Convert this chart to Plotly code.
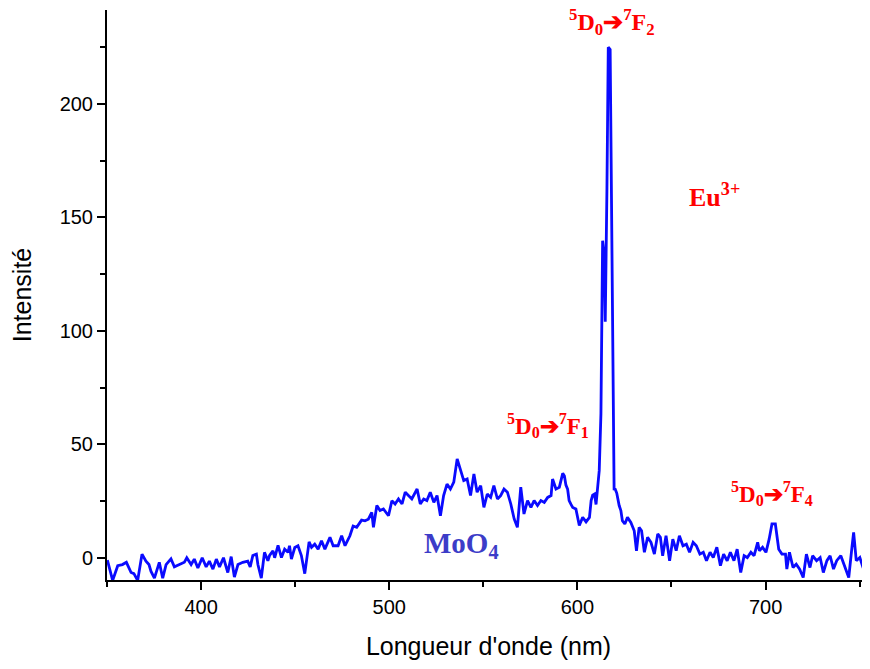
import plotly.graph_objects as go

wavelength = [350.2,353.0,355.7,358.2,360.3,362.8,364.3,366.3,368.6,370.7,372.3,373.4,375.2,377.8,379.6,381.4,384.0,385.8,388.5,391.1,392.4,394.7,396.4,398.3,400.6,402.7,404.4,406.3,408.1,409.8,411.9,414.2,416.0,417.7,419.6,422.2,424.8,426.1,427.5,429.4,430.2,432.0,433.7,435.5,436.4,438.2,439.1,440.9,442.7,444.4,446.2,447.0,448.0,449.8,451.5,453.3,455.1,455.9,457.4,458.7,460.4,462.2,464.0,465.8,468.5,470.2,472.8,474.7,476.5,479.1,480.8,482.7,485.3,487.1,488.9,490.7,491.6,493.4,495.1,496.9,499.6,501.4,503.1,504.9,506.8,508.5,510.3,512.0,514.8,516.5,518.3,520.0,521.8,523.7,525.4,527.2,528.9,530.7,532.5,534.3,536.1,537.8,539.6,541.4,543.2,545.0,546.7,548.6,550.3,552.1,553.9,555.6,557.5,559.2,561.0,562.8,564.6,566.4,568.1,569.9,571.6,573.5,575.3,577.0,578.8,580.6,582.4,584.2,586.0,586.8,588.6,590.4,592.2,593.1,593.9,594.8,595.6,596.6,597.5,599.2,601.0,602.8,604.6,606.4,607.3,608.1,609.1,609.9,611.6,612.5,613.4,614.3,614.8,615.7,616.4,617.4,618.1,619.0,619.5,620.1,620.9,622.2,623.1,623.9,625.2,626.6,628.4,630.2,631.4,632.8,634.1,635.6,637.3,639.1,640.9,642.7,644.1,645.3,647.1,649.0,650.7,652.5,654.2,656.1,657.9,659.6,661.5,663.2,665.1,666.9,668.6,670.5,672.2,674.1,676.0,677.7,679.6,681.3,683.2,684.9,686.8,688.6,690.3,692.2,693.9,695.8,696.7,698.4,700.2,701.9,703.4,705.2,707.0,708.7,710.6,711.3,712.7,714.6,716.3,718.1,720.0,721.7,723.6,725.0,727.1,729.0,730.7,732.6,734.3,736.1,737.8,740.0,741.5,744.2,745.9,746.8,748.2,750.1,751.8,754.0,755.6]

intensity = [-1,-10,-3.5,-3,-2,-6.5,-7,-10,1.6,-1.5,-3,-6,-9,-2,-9,-3,-0.5,-4,-3,-2,0,-3,-0.6,-4.5,0,-4,-1.5,-5,-0.6,-4,0,-6.5,0.5,-8.5,-3,-2,-1.5,-4,1,1.6,-3,-9,2.4,-1.3,1,3,0,5.5,0.1,3.8,2.4,5.3,-0.6,4.5,5.3,1,-7,-1.3,7,4.6,6,3.8,7.5,3.8,9,5.3,5.3,9.7,5.3,9.7,14,13.4,16.6,16.3,17,20,13.4,23,20.8,21.5,18.5,25.1,23.7,25.9,23.7,28.9,27.4,25.9,30.3,23.7,25.9,25.2,28.9,24.4,27.4,18.5,27.4,32.5,30.3,33.3,43.6,39.1,34,34.7,27.4,36.9,28.9,31.8,22.2,28.1,26.6,31.8,25.9,27.4,30.3,28.9,23.7,17.1,13.4,31.1,19.3,25.2,22.2,25.2,23,25.2,24.4,26.6,27.4,34.7,30.3,31.1,37.2,36,32,30.2,25.2,23.5,22.2,21.5,14.2,17.8,15.8,17.8,25.2,27.6,28.1,23.5,38.4,63.4,139.7,133,104,163,225,224,146,55,30.3,30.2,28.5,23,20.8,16.3,14.9,17.8,15.6,11.9,3.1,13.4,11.9,2.4,9,6.8,1.6,10.5,9,0.9,9.7,-1.3,8.2,3.1,9.7,5.3,6,2.4,6.8,5.3,1.6,2.4,-1.3,2.4,0.1,4.6,-3.5,1.6,-1.3,2.4,-1.3,3.8,-6.5,0.9,0.1,2.4,0.9,6.8,3.1,4.6,2.4,8.2,14.9,14.9,3.8,1.6,1.6,-5,2.4,-4.3,-2.8,-5,-8.7,1.6,-4.3,0.9,-1.3,0.1,-6.5,-1.3,0.9,-5,-1.3,0.9,-2.8,-8.7,4.6,11.2,-1.3,0.1,-4.3,-6.5,-2.1]

labels = [
    ("<sup>5</sup>D<sub>0</sub>➔<sup>7</sup>F<sub>2</sub>", 618.3, 236.2, "#ff0000", 24),
    ("Eu<sup>3+</sup>", 673.1, 159.8, "#ff0000", 26),
    ("<sup>5</sup>D<sub>0</sub>➔<sup>7</sup>F<sub>1</sub>", 584.3, 58.5, "#ff0000", 23),
    ("<sup>5</sup>D<sub>0</sub>➔<sup>7</sup>F<sub>4</sub>", 703.4, 28.5, "#ff0000", 23),
    ("MoO<sub>4</sub>", 538.5, 5.6, "#3c3cc8", 29),
]

fig = go.Figure()
fig.add_trace(go.Scatter(x=wavelength, y=intensity, mode="lines",
                         line=dict(color="#0a0aff", width=2.8), showlegend=False))

for txt, x, y, col, sz in labels:
    fig.add_annotation(x=x, y=y, text=txt, showarrow=False,
                       font=dict(family="Liberation Serif, Times New Roman, serif",
                                 size=sz, color=col, weight="bold"),
                       xanchor="center", yanchor="middle")

axis_common = dict(showline=True, linecolor="black", linewidth=2, ticks="outside",
                   ticklen=8, tickwidth=2, tickcolor="black", showgrid=False,
                   zeroline=False, mirror=False, automargin=False,
                   tickfont=dict(family="Liberation Sans, Arial, sans-serif", size=20, color="black"))

fig.update_xaxes(**axis_common, range=[350, 755.5], tick0=400, dtick=100,
                 minor=dict(ticks="outside", ticklen=5, tickwidth=1.5, tickcolor="black", dtick=50, tick0=350),
                 title=dict(text="Longueur d'onde (nm)", standoff=20,
                            font=dict(family="Liberation Sans, Arial, sans-serif", size=25, color="black")))
fig.update_yaxes(**axis_common, range=[-9.8, 241.4], tick0=0, dtick=50,
                 minor=dict(ticks="outside", ticklen=5, tickwidth=1.5, tickcolor="black", dtick=25, tick0=0),
                 title=dict(text="Intensité", standoff=24,
                            font=dict(family="Liberation Sans, Arial, sans-serif", size=25, color="black")))

fig.update_layout(width=870, height=669, margin=dict(l=99, r=8, t=2, b=97),
                  plot_bgcolor="white", paper_bgcolor="white")

fig.write_html("out.html")
